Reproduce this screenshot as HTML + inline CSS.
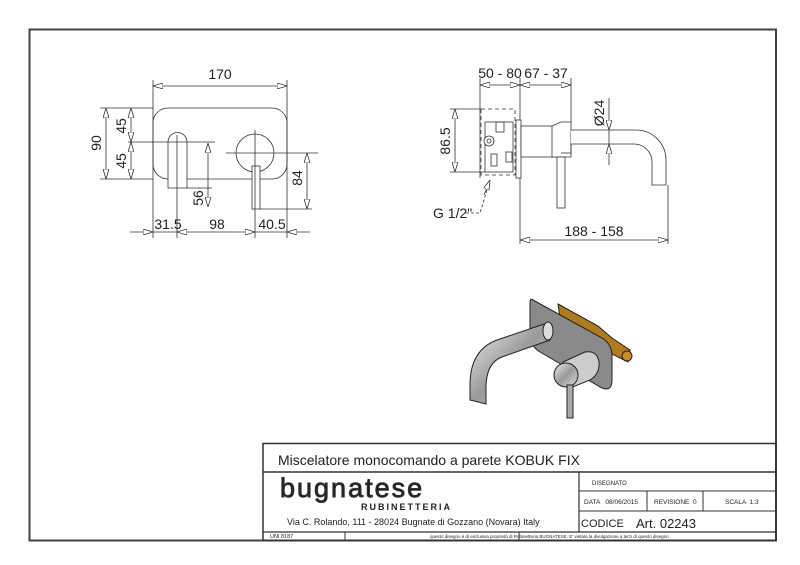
<!DOCTYPE html>
<html><head><meta charset="utf-8"><style>
html,body{margin:0;padding:0;background:#fff}
svg{display:block}
text{font-family:"Liberation Sans",sans-serif;fill:#222}
.n{font-family:"Liberation Sans Narrow","Liberation Sans",sans-serif}
</style></head><body>
<svg width="800" height="565" viewBox="0 0 800 565" xmlns="http://www.w3.org/2000/svg">
<defs>
<marker id="a" viewBox="0 0 10 6" refX="10" refY="3" markerWidth="10" markerHeight="6" orient="auto-start-reverse" markerUnits="userSpaceOnUse"><path d="M0,0 L10,3 L0,6 Z" fill="#fff" stroke="#333" stroke-width="0.8"/></marker>
<linearGradient id="chrome" x1="0" y1="0" x2="1" y2="1"><stop offset="0" stop-color="#eee"/><stop offset="0.5" stop-color="#999"/><stop offset="1" stop-color="#ddd"/></linearGradient>
</defs>
<rect x="29.5" y="29.5" width="746.5" height="511" fill="none" stroke="#444" stroke-width="2"/>
<g stroke="#333" stroke-width="0.8" fill="none">
<rect x="153" y="108" width="134" height="71" rx="15"/>
<path d="M168,188 V142 A9.5,9.5 0 0 1 187,142 V188 Z" fill="#fff"/>
<circle cx="255" cy="153" r="19" fill="#fff"/>
<rect x="252" y="166" width="8" height="43" fill="#fff"/>
<line x1="153" y1="80" x2="153" y2="238"/><line x1="287" y1="80" x2="287" y2="238"/>
<line x1="153" y1="86" x2="287" y2="86" marker-start="url(#a)" marker-end="url(#a)"/>
<line x1="100" y1="108" x2="153" y2="108"/><line x1="100" y1="179" x2="153" y2="179"/>
<line x1="106" y1="108" x2="106" y2="179" marker-start="url(#a)" marker-end="url(#a)"/>
<line x1="131" y1="108" x2="131" y2="142" marker-start="url(#a)" marker-end="url(#a)"/>
<line x1="131" y1="142" x2="131" y2="179" marker-start="url(#a)" marker-end="url(#a)"/>
<line x1="128" y1="142" x2="215" y2="142"/>
<line x1="226" y1="153" x2="318" y2="153"/>
<line x1="177" y1="135" x2="177" y2="238"/><line x1="255" y1="130" x2="255" y2="238"/>
<line x1="208" y1="143" x2="208" y2="207" marker-start="url(#a)" marker-end="url(#a)"/>
<line x1="187" y1="188" x2="212" y2="188"/>
<line x1="260" y1="209" x2="312" y2="209"/>
<line x1="307" y1="153" x2="307" y2="209" marker-start="url(#a)" marker-end="url(#a)"/>
<line x1="130" y1="232" x2="153" y2="232" marker-end="url(#a)"/>
<line x1="177" y1="232" x2="255" y2="232" marker-start="url(#a)" marker-end="url(#a)"/>
<line x1="310" y1="232" x2="287" y2="232" marker-end="url(#a)"/>
<line x1="153" y1="232" x2="177" y2="232"/><line x1="255" y1="232" x2="287" y2="232"/>
<line x1="480" y1="78" x2="480" y2="178"/><line x1="520" y1="78" x2="520" y2="244"/><line x1="571" y1="78" x2="571" y2="124"/>
<line x1="480" y1="85" x2="520" y2="85" marker-start="url(#a)" marker-end="url(#a)"/>
<line x1="520" y1="85" x2="571" y2="85" marker-start="url(#a)" marker-end="url(#a)"/>
<rect x="481" y="109" width="34" height="66" stroke-dasharray="4,3"/>
<rect x="485" y="122" width="28" height="50" fill="#fff"/>
<circle cx="489" cy="141" r="5" fill="#fff"/><circle cx="489" cy="141" r="2"/>
<rect x="496" y="122" width="8" height="10"/><rect x="506" y="152" width="6" height="10"/><rect x="491" y="154" width="6" height="12"/>
<rect x="516" y="120" width="5" height="58" fill="#fff"/>
<rect x="521" y="126" width="40" height="31" fill="#fff"/>
<path d="M552,126 L561,122 H571 V157 H552 Z" fill="#fff"/>
<path d="M571,130 H636 A30,30 0 0 1 666,160 V185 H652 V162 A18,18 0 0 0 634,144 H571" fill="#fff"/>
<line x1="571" y1="144" x2="571" y2="153"/><line x1="571" y1="153" x2="561" y2="153"/>
<rect x="557" y="157" width="8" height="51" fill="#fff"/>
<line x1="450" y1="109" x2="481" y2="109"/><line x1="450" y1="172" x2="485" y2="172"/>
<line x1="455" y1="109" x2="455" y2="172" marker-start="url(#a)" marker-end="url(#a)"/>
<line x1="609" y1="98" x2="609" y2="130" marker-end="url(#a)"/>
<line x1="609" y1="165" x2="609" y2="144" marker-end="url(#a)"/>
<line x1="609" y1="130" x2="609" y2="144"/>
<line x1="668" y1="185" x2="668" y2="244"/>
<line x1="520" y1="240" x2="668" y2="240" marker-start="url(#a)" marker-end="url(#a)"/>
<polyline points="466,213 480,213 490,180" stroke-dasharray="3,2"/>
<line x1="484" y1="195" x2="490" y2="180" marker-end="url(#a)"/>
</g>
<g font-size="14">
<text x="220" y="79" text-anchor="middle">170</text>
<text x="168" y="229" text-anchor="middle">31.5</text>
<text x="217" y="229" text-anchor="middle">98</text>
<text x="272" y="229" text-anchor="middle">40.5</text>
<text transform="translate(101,143) rotate(-90)" text-anchor="middle">90</text>
<text transform="translate(126,126) rotate(-90)" text-anchor="middle">45</text>
<text transform="translate(126,161) rotate(-90)" text-anchor="middle">45</text>
<text transform="translate(203,198) rotate(-90)" text-anchor="middle">56</text>
<text transform="translate(302,178) rotate(-90)" text-anchor="middle">84</text>
<text x="500" y="78" text-anchor="middle">50 - 80</text>
<text x="546" y="78" text-anchor="middle">67 - 37</text>
<text transform="translate(450,141) rotate(-90)" text-anchor="middle">86.5</text>
<text transform="translate(604,113) rotate(-90)" text-anchor="middle">Ø24</text>
<text x="433" y="218">G 1/2"</text>
<text x="594" y="236" text-anchor="middle">188 - 158</text>
</g>
<g stroke="#222" stroke-width="1">
<path d="M558,304 L598,326 L612,338 L630,350 L628,362 L612,354 L596,344 L560,318 Z" fill="#b07a1e"/>
<circle cx="627" cy="356" r="5" fill="#c98c2a"/>
<path d="M533,300 L602,338 Q612,344 612,356 L612,380 Q612,392 602,388 L540,352 Q530,346 530,334 L530,304 Q530,297 533,300 Z" fill="#8a8a8a"/>
<path d="M547,323 L497,340 Q470,350 470,385 L470,400 L486,404 L486,388 Q486,363 502,357 L550,340 Z" fill="url(#chrome)"/>
<ellipse cx="548" cy="331" rx="5" ry="9" fill="#ddd"/>
<path d="M563,362 L585,352 Q597,350 599,362 Q600,374 590,380 L570,388 Z" fill="#ccc"/>
<circle cx="566" cy="375" r="12" fill="url(#chrome)"/>
<rect x="567" y="385" width="6" height="33" fill="#aaa"/>
</g>
<g stroke="#333" fill="none">
<rect x="263" y="443.5" width="513" height="97" stroke-width="1.5"/>
<line x1="263" y1="472" x2="776" y2="472" stroke-width="1.5"/>
<line x1="579" y1="472" x2="579" y2="532" stroke-width="1.2"/>
<line x1="579" y1="491" x2="776" y2="491"/>
<line x1="579" y1="511" x2="776" y2="511"/>
<line x1="647" y1="491" x2="647" y2="511"/><line x1="703" y1="491" x2="703" y2="511"/>
<line x1="263" y1="532" x2="776" y2="532" stroke-width="1.2"/>
<line x1="345" y1="532" x2="345" y2="540"/><line x1="519" y1="532" x2="519" y2="540"/>
</g>
<g class="n">
<text x="278" y="465" font-size="14">Miscelatore monocomando a parete KOBUK FIX</text>
<text x="280" y="497" font-size="27" fill="none" stroke="#333" stroke-width="0.9" letter-spacing="2">bugnatese</text>
<text x="361" y="510" font-size="9" font-weight="bold" letter-spacing="2">RUBINETTERIA</text>
<text x="287" y="525" font-size="9">Via C. Rolando, 111 - 28024 Bugnate di Gozzano (Novara) Italy</text>
<text x="592" y="485" font-size="6">DISEGNATO</text>
<text x="584" y="504" font-size="6.5">DATA &#160; 08/06/2015</text>
<text x="654" y="504" font-size="6.5">REVISIONE &#160;0</text>
<text x="725" y="504" font-size="6.5">SCALA &#160;1:3</text>
<text x="581" y="527" font-size="11">CODICE</text>
<text x="636" y="528" font-size="13">Art. 02243</text>
<text x="270" y="538" font-size="5.5">UNI 8187</text>
<text x="430" y="538" font-size="4.5">questo disegno è di esclusiva proprietà di Rubinetteria BUGNATESE. E' vietata la divulgazione a terzi di questo disegno</text>
</g>
</svg>
</body></html>
